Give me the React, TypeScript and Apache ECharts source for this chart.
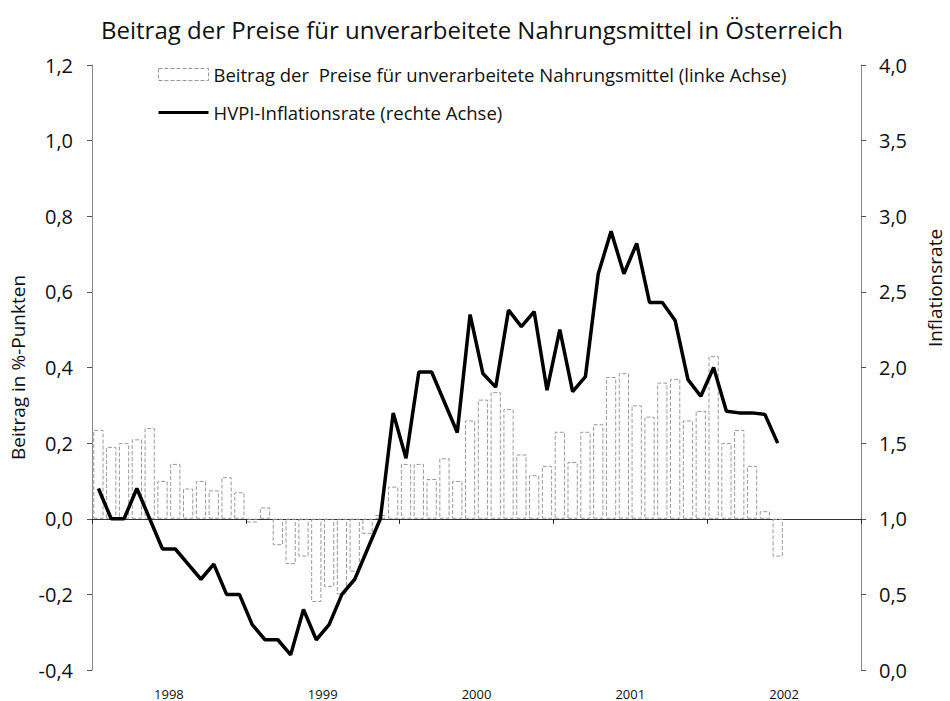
import React, { useEffect, useRef } from "react";
import * as echarts from "echarts";

const years = ["1998", "1999", "2000", "2001", "2002"];
const monthNums = ["01", "02", "03", "04", "05", "06", "07", "08", "09", "10", "11", "12"];
const months = years.flatMap((y) => monthNums.map((m) => `${y}-${m}`));

// Beitrag der Preise für unverarbeitete Nahrungsmittel (linke Achse), Jan 1998 – Jun 2002
const beitrag = [
  0.235, 0.19, 0.2, 0.21, 0.24, 0.1, 0.145, 0.08, 0.1, 0.075, 0.11, 0.07,
  -0.01, 0.03, -0.07, -0.12, -0.1, -0.22, -0.18, -0.2, -0.14, -0.04, 0.01, 0.085,
  0.145, 0.145, 0.105, 0.16, 0.1, 0.26, 0.315, 0.335, 0.29, 0.17, 0.115, 0.14,
  0.23, 0.15, 0.23, 0.25, 0.375, 0.385, 0.3, 0.27, 0.36, 0.37, 0.26, 0.285,
  0.43, 0.2, 0.235, 0.14, 0.02, -0.1,
];

// HVPI-Inflationsrate (rechte Achse)
const hvpi = [
  1.2, 1.0, 1.0, 1.2, 1.0, 0.8, 0.8, 0.7, 0.6, 0.7, 0.5, 0.5,
  0.3, 0.2, 0.2, 0.1, 0.4, 0.2, 0.3, 0.5, 0.6, 0.8, 1.0, 1.7,
  1.4, 1.97, 1.97, 1.77, 1.57, 2.35, 1.96, 1.87, 2.38, 2.27, 2.37, 1.85,
  2.25, 1.84, 1.94, 2.62, 2.9, 2.62, 2.82, 2.43, 2.43, 2.31, 1.92, 1.81,
  2.0, 1.71, 1.7, 1.7, 1.69, 1.5,
];

const FONT = "Open Sans";
const fmt = (v: number) => v.toFixed(1).replace(".", ",");
const BAR_NAME = "Beitrag der  Preise für unverarbeitete Nahrungsmittel (linke Achse)";
const LINE_NAME = "HVPI-Inflationsrate (rechte Achse)";

export default function App() {
  const ref = useRef<HTMLDivElement>(null);
  useEffect(() => {
    document.body.style.margin = "0";
    const chart = echarts.init(ref.current!, null, { renderer: "svg" });
    chart.setOption({
      animation: false,
      backgroundColor: "#ffffff",
      title: {
        text: "Beitrag der Preise für unverarbeitete Nahrungsmittel in Österreich",
        left: 96,
        top: 12,
        textStyle: { fontFamily: FONT, fontSize: 24, fontWeight: "normal", color: "#111" },
      },
      legend: {
        orient: "vertical",
        left: 153,
        top: 60,
        itemWidth: 50,
        itemHeight: 12,
        itemGap: 19,
        textStyle: { fontFamily: FONT, fontSize: 18.5, color: "#111" },
        data: [
          {
            name: BAR_NAME,
            icon: "rect",
            itemStyle: { color: "rgba(255,255,255,0)", borderColor: "#999", borderWidth: 1, borderType: "dashed" },
          },
          { name: LINE_NAME, icon: "path://M0,0 L50,0 L50,3 L0,3 Z", itemStyle: { color: "#000" } },
        ],
      },
      grid: { left: 92, right: 89, top: 65, bottom: 31 },
      xAxis: [
        {
          type: "category",
          data: months,
          boundaryGap: true,
          axisLine: { onZero: true, lineStyle: { color: "#333", width: 1 } },
          axisTick: {
            show: true,
            length: 5,
            interval: (i: number) => i % 12 === 0,
            lineStyle: { color: "#222" },
          },
          axisLabel: { show: false },
          splitLine: { show: false },
        },
        {
          type: "category",
          data: years,
          position: "bottom",
          boundaryGap: true,
          axisLine: { show: false, onZero: false },
          axisTick: { show: false },
          axisLabel: { fontFamily: FONT, fontSize: 13, color: "#111", margin: 17 },
          splitLine: { show: false },
        },
      ],
      yAxis: [
        {
          type: "value",
          min: -0.4,
          max: 1.2,
          interval: 0.2,
          position: "left",
          name: "Beitrag in %-Punkten",
          nameLocation: "middle",
          nameGap: 65,
          nameTextStyle: { fontFamily: FONT, fontSize: 19, color: "#111" },
          axisLine: { show: true, lineStyle: { color: "#888", width: 1 } },
          axisTick: { show: true, length: 5, lineStyle: { color: "#555" } },
          axisLabel: { formatter: fmt, fontFamily: FONT, fontSize: 20, color: "#111", margin: 19 },
          splitLine: { show: false },
        },
        {
          type: "value",
          min: 0,
          max: 4,
          interval: 0.5,
          position: "right",
          axisLine: { show: true, lineStyle: { color: "#888", width: 1 } },
          axisTick: { show: true, length: 5, lineStyle: { color: "#555" } },
          axisLabel: { formatter: fmt, fontFamily: FONT, fontSize: 20, color: "#111", margin: 18 },
          splitLine: { show: false },
        },
      ],
      graphic: [
        {
          type: "text",
          x: 935,
          y: 288,
          rotation: Math.PI / 2,
          style: {
            text: "Inflationsrate",
            fontFamily: FONT,
            fontSize: 19,
            fill: "#111",
            align: "center",
            verticalAlign: "middle",
          },
        },
      ],
      series: [
        {
          name: BAR_NAME,
          type: "bar",
          xAxisIndex: 0,
          yAxisIndex: 0,
          data: beitrag,
          barCategoryGap: "20%",
          itemStyle: {
            color: "rgba(255,255,255,0)",
            borderColor: "#999",
            borderWidth: 1,
            borderType: "dashed",
          },
        },
        {
          name: LINE_NAME,
          type: "line",
          xAxisIndex: 0,
          yAxisIndex: 1,
          data: hvpi,
          symbol: "none",
          lineStyle: { color: "#000", width: 3.5 },
          itemStyle: { color: "#000" },
          z: 5,
        },
      ],
    });
    return () => chart.dispose();
  }, []);
  return <div ref={ref} style={{ width: 950, height: 701 }} />;
}
